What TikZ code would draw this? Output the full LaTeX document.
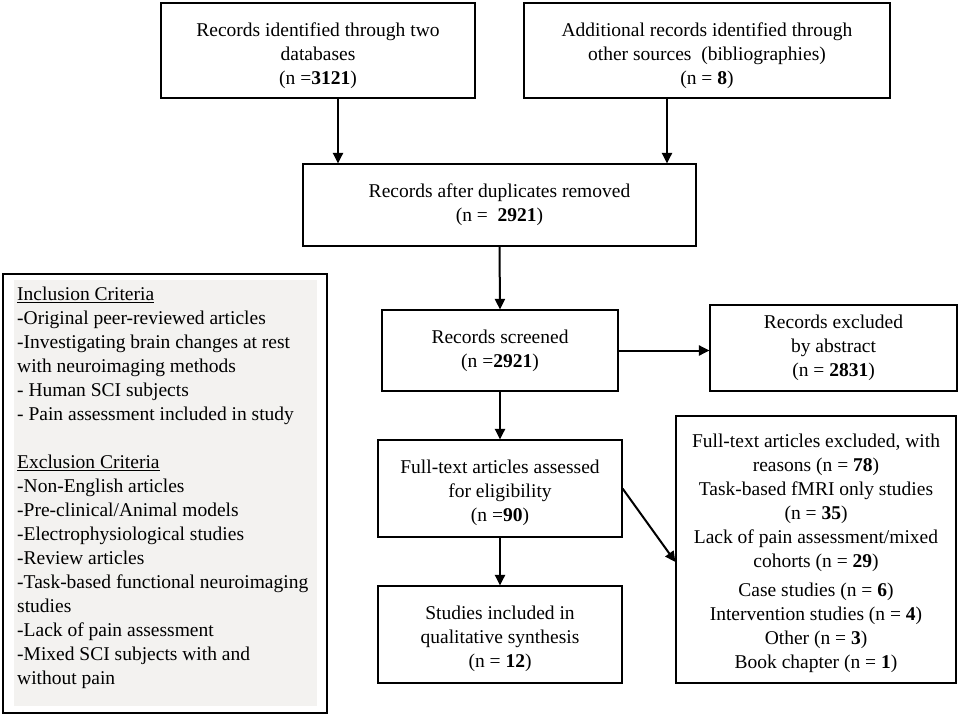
\documentclass[tikz,border=0pt]{standalone}
\usepackage{fontspec}
\setmainfont{Liberation Serif}
\usetikzlibrary{arrows.meta}
\definecolor{critgray}{RGB}{243,242,240}
\newcommand{\fsz}{\fontsize{19.5}{24}\selectfont}
\newcommand{\dn}[2]{\raisebox{-#1}[\height][\depth]{\begin{tabular}{@{}c@{}}#2\end{tabular}}}
\begin{document}
\begin{tikzpicture}[x=1pt,y=1pt,
  box/.style={draw, line width=1.1pt, inner sep=0pt, align=center, font=\fsz},
  arr/.style={line width=2pt, -{Triangle[length=10.5pt,width=10pt]}}]
\useasboundingbox (0,0) rectangle (961,-717);
% top boxes
\node[box, minimum width=314pt, minimum height=95pt] (b1) at (318,-50.5)
  {\dn{5pt}{Records identified through two\\databases\\(n =\textbf{3121})}};
\node[box, minimum width=366pt, minimum height=95pt] (b2) at (707,-50.5)
  {\dn{5pt}{Additional records identified through\\other sources~~(bibliographies)\\(n = \textbf{8})}};
\node[box, minimum width=393pt, minimum height=82pt] (b3) at (499.5,-205)
  {Records after duplicates removed\\(n = ~\textbf{2921})};
\node[box, minimum width=236pt, minimum height=81pt] (b4) at (500,-350.5)
  {Records screened\\(n =\textbf{2921})};
\node[box, minimum width=247pt, minimum height=86pt] (b5) at (833.5,-348)
  {Records excluded\\by abstract\\(n = \textbf{2831})};
\node[box, minimum width=244pt, minimum height=97pt] (b6) at (500,-488.5)
  {\dn{4pt}{Full-text articles assessed\\for eligibility\\(n =\textbf{90})}};
\node[box, minimum width=244pt, minimum height=97pt] (b7) at (500,-634.5)
  {\dn{4pt}{Studies included in\\qualitative synthesis\\(n = \textbf{12})}};
\node[box, minimum width=280pt, minimum height=267pt] (b8) at (816,-549.5)
  {\dn{4pt}{Full-text articles excluded, with\\reasons (n = \textbf{78})\\Task-based fMRI only studies\\(n = \textbf{35})\\Lack of pain assessment/mixed\\cohorts (n = \textbf{29})\\[5pt]Case studies (n = \textbf{6})\\Intervention studies (n = \textbf{4})\\Other (n = \textbf{3})\\Book chapter (n = \textbf{1})}};
% criteria box
\node[draw, line width=1.1pt, minimum width=324pt, minimum height=439pt, inner sep=0pt] (crit) at (165,-493.5) {};
\node[fill=critgray, minimum width=303pt, minimum height=426pt, inner sep=0pt] (critbg) at (165.5,-493) {};
\node[anchor=north west, inner sep=0pt, align=left, font=\fsz] (crittext) at (17,-287)
  {\underline{Inclusion Criteria}\\
   -Original peer-reviewed articles\\
   -Investigating brain changes at rest\\
   with neuroimaging methods\\
   - Human SCI subjects\\
   - Pain assessment included in study\\
   \mbox{}\\
   \underline{Exclusion Criteria}\\
   -Non-English articles\\
   -Pre-clinical/Animal models\\
   -Electrophysiological studies\\
   -Review articles\\
   -Task-based functional neuroimaging\\
   studies\\
   -Lack of pain assessment\\
   -Mixed SCI subjects with and\\
   without pain};
% connectors
\draw[arr] ([xshift=20pt]b1.south) coordinate (s1) -- (s1 |- b3.north);
\draw[arr] ([xshift=-40pt]b2.south) coordinate (s2) -- (s2 |- b3.north);
\draw[arr] (b3.south) -- (b4.north);
\draw[arr] (b4.east) -- (b4.east -| b5.west);
\draw[arr] (b4.south) -- (b6.north);
\draw[arr] (b6.south) -- (b7.north);
\draw[arr] (b6.east) -- ([yshift=-12.5pt]b8.west);
\end{tikzpicture}
\end{document}
